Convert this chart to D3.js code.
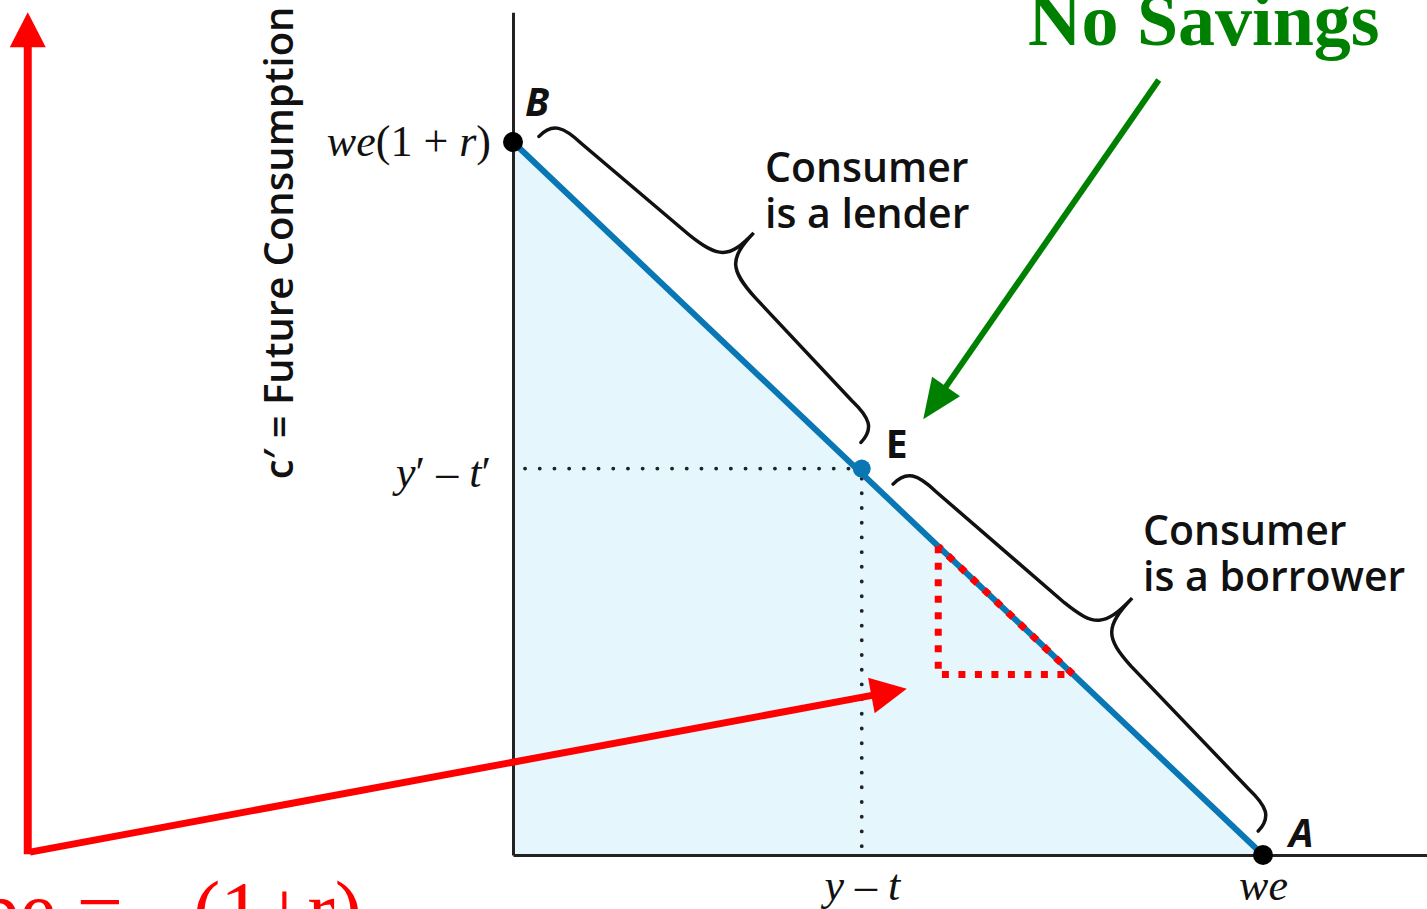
<!DOCTYPE html>
<html>
<head>
<meta charset="utf-8">
<script src="https://cdn.jsdelivr.net/npm/d3@7"></script>
<style>
  html, body { margin: 0; padding: 0; background: #fff; overflow: hidden; }
  svg { display: block; }
</style>
</head>
<body>
<svg id="chart" width="1427" height="909"></svg>
<script>
// Budget line data (normalised units: current consumption c, future consumption c')
const budgetLine = [
    { label: "B", c: 0, cf: 1 },
    { label: "A", c: 1, cf: 0 }
];
const endowment = { label: "E", c: 0.465, cf: 0.535 };
const axisMax = { c: 1.219, cf: 1.182 };

// Tick labels
const xTicks = [
    { value: 0.465, label: "y – t" },
    { value: 1, label: "we" }
];
const yTicks = [
    { value: 1, label: "we(1 + r)" },
    { value: 0.535, label: "y′ – t′" }
];

// Braces along the budget line (from, to)
const braces = [
    { from: 0, to: 0.465, lines: ["Consumer", "is a lender"] },
    { from: 0.465, to: 1, lines: ["Consumer", "is a borrower"] }
];

// Slope triangle on the budget line
const slopeTriangle = [0.567, 0.747];

// Annotation arrows (data units)
const redAxisArrow = { c: -0.647, from: 0.004, to: 1.182 };
const redPointer = [{ c: -0.644, cf: 0.004 }, { c: 0.525, cf: 0.233 }];
const greenPointer = [{ c: 0.861, cf: 1.087 }, { c: 0.547, cf: 0.611 }];

const svg = d3.select("#chart");

const x = d3.scaleLinear().domain([0, 1]).range([513, 1263]);
const y = d3.scaleLinear().domain([0, 1]).range([855, 142]);

const blue = "#0a77b5";
const serif = "'Liberation Serif', 'Times New Roman', serif";
const sans = "'Open Sans', 'Noto Sans', sans-serif";

// Shaded budget set
svg.append("path")
    .attr("d", d3.line()([[x(0), y(0)], [x(0), y(1)], [x(1), y(0)]]) + "Z")
    .attr("fill", "#e5f7fc");

// Dotted guides to E
const dotted = svg.append("g")
    .attr("stroke", "#222")
    .attr("stroke-width", 3.8)
    .attr("stroke-linecap", "round")
    .attr("stroke-dasharray", "0.1 14.6");
dotted.append("line")
    .attr("x1", x(0) + 12).attr("y1", y(endowment.cf) - 5)
    .attr("x2", x(endowment.c)).attr("y2", y(endowment.cf) - 5);
dotted.append("line")
    .attr("x1", x(endowment.c)).attr("y1", y(endowment.cf) + 5)
    .attr("x2", x(endowment.c)).attr("y2", y(0));

// Axes
const xAxis = d3.axisBottom(x.copy().domain([0, axisMax.c]).range([x(0), x(axisMax.c)]))
    .tickValues(xTicks.map(d => d.value))
    .tickSize(0)
    .tickPadding(14)
    .tickFormat(v => xTicks.find(d => d.value === v).label);
const yAxis = d3.axisLeft(y.copy().domain([0, axisMax.cf]).range([y(0), y(axisMax.cf)]))
    .tickValues(yTicks.map(d => d.value))
    .tickSize(0)
    .tickPadding(22)
    .tickFormat(v => yTicks.find(d => d.value === v).label);

const gx = svg.append("g").attr("transform", `translate(0,${y(0)})`).call(xAxis);
const gy = svg.append("g").attr("transform", `translate(${x(0)},0)`).call(yAxis);

// Letters in italic, digits and operators upright (math style)
function mathify(sel) {
    sel.each(function () {
        const t = d3.select(this);
        const s = t.text();
        t.text(null);
        (s.match(/[A-Za-z]+|[^A-Za-z]+/g) || []).forEach(run => {
            t.append("tspan")
                .style("font-style", /[A-Za-z]/.test(run) ? "italic" : "normal")
                .text(run);
        });
    });
}

[gx, gy].forEach(g => {
    g.select(".domain").attr("stroke", "#222").attr("stroke-width", 3);
    g.selectAll("text")
        .attr("fill", "#111")
        .style("font-family", serif)
        .style("font-size", "44px")
        .call(mathify);
});
gx.selectAll("text").attr("dy", "0.7em");
gy.selectAll("text").attr("dy", "0.3em");

// Y axis title
svg.append("text")
    .attr("transform", `translate(293,${(y(axisMax.cf) + y(endowment.cf)) / 2}) rotate(-90)`)
    .attr("text-anchor", "middle")
    .style("font-family", sans)
    .style("font-weight", 600)
    .style("font-size", "40px")
    .attr("fill", "#111")
    .text("c′ = Future Consumption");

// Budget line
svg.append("line")
    .attr("x1", x(budgetLine[0].c)).attr("y1", y(budgetLine[0].cf))
    .attr("x2", x(budgetLine[1].c)).attr("y2", y(budgetLine[1].cf))
    .attr("stroke", blue)
    .attr("stroke-width", 6);

// Curly braces
const bx = x(1) - x(0), by = y(0) - y(1);
const blen = Math.hypot(bx, by);
const dir = [bx / blen, by / blen];
const perp = [dir[1], -dir[0]];

function bracePath(p1, p2, b, w) {
    const L = Math.hypot(p2[0] - p1[0], p2[1] - p1[1]);
    const h = 36, d = 46;
    const pt = (u, v) => [p1[0] + u * dir[0] + v * perp[0], p1[1] + u * dir[1] + v * perp[1]];
    const f = p => p[0].toFixed(1) + "," + p[1].toFixed(1);
    const m = L / 2;
    return "M" + f(pt(0, 0)) +
        "C" + f(pt(0, b * 0.8)) + " " + f(pt(h * 0.3, b)) + " " + f(pt(h, b)) +
        "L" + f(pt(m - d, b + 8)) +
        "C" + f(pt(m - 8, b + 11)) + " " + f(pt(m, b + 18)) + " " + f(pt(m, w)) +
        "C" + f(pt(m, b + 18)) + " " + f(pt(m + 8, b + 11)) + " " + f(pt(m + d, b + 8)) +
        "L" + f(pt(L - h, b)) +
        "C" + f(pt(L - h * 0.3, b)) + " " + f(pt(L, b * 0.8)) + " " + f(pt(L, 0));
}

braces.forEach((br, i) => {
    const a = [x(br.from), y(1 - br.from)];
    const z = [x(br.to), y(1 - br.to)];
    const padA = i === 0 ? 15 : 30, padZ = i === 0 ? 22 : 20, off = i === 0 ? 22 : 14;
    const p1 = [a[0] + padA * dir[0] + off * perp[0], a[1] + padA * dir[1] + off * perp[1]];
    const p2 = [z[0] - padZ * dir[0] + off * perp[0], z[1] - padZ * dir[1] + off * perp[1]];
    svg.append("path")
        .attr("d", bracePath(p1, p2, 24, i === 0 ? 78 : 82))
        .attr("fill", "none")
        .attr("stroke", "#111")
        .attr("stroke-width", 3.5)
        .attr("stroke-linecap", "round");
});

// Brace captions
const captionPos = [[765, 182], [1143, 545]];
braces.forEach((br, i) => {
    br.lines.forEach((ln, j) => {
        svg.append("text")
            .attr("x", captionPos[i][0])
            .attr("y", captionPos[i][1] + j * 46)
            .style("font-family", sans)
            .style("font-weight", 600)
            .style("font-size", "41px")
            .attr("fill", "#111")
            .text(ln);
    });
});

// Slope triangle (red dotted)
const t0 = slopeTriangle[0], t1 = slopeTriangle[1];
svg.append("path")
    .attr("d", d3.line()([[x(t0), y(1 - t0)], [x(t0), y(1 - t1)], [x(t1), y(1 - t1)], [x(t0), y(1 - t0)]]))
    .attr("fill", "none")
    .attr("stroke", "#ff0000")
    .attr("stroke-width", 7)
    .attr("stroke-dasharray", "7 9.5");

// Points
svg.selectAll("circle.pt")
    .data(budgetLine)
    .join("circle")
    .attr("class", "pt")
    .attr("cx", d => x(d.c))
    .attr("cy", d => y(d.cf))
    .attr("r", 10)
    .attr("fill", "#000");
svg.append("circle")
    .attr("cx", x(endowment.c))
    .attr("cy", y(endowment.cf) - 5)
    .attr("r", 9)
    .attr("fill", blue);

// Point labels
const pointLabels = [
    { text: "B", px: x(0) + 12, py: 116, italic: true },
    { text: "E", px: x(endowment.c) + 24, py: 458, italic: false },
    { text: "A", px: x(1) + 26, py: 847, italic: true }
];
svg.selectAll("text.pl")
    .data(pointLabels)
    .join("text")
    .attr("class", "pl")
    .attr("x", d => d.px)
    .attr("y", d => d.py)
    .style("font-family", sans)
    .style("font-weight", 700)
    .style("font-style", d => d.italic ? "italic" : "normal")
    .style("font-size", "39px")
    .attr("fill", "#111")
    .text(d => d.text);

// Arrow helper
function arrow(p1, p2, color, width, headLen, headW) {
    const dx = p2[0] - p1[0], dy = p2[1] - p1[1];
    const len = Math.hypot(dx, dy);
    const ux = dx / len, uy = dy / len;
    const base = [p2[0] - ux * headLen, p2[1] - uy * headLen];
    svg.append("line")
        .attr("x1", p1[0]).attr("y1", p1[1])
        .attr("x2", base[0] + ux * 2).attr("y2", base[1] + uy * 2)
        .attr("stroke", color)
        .attr("stroke-width", width);
    svg.append("path")
        .attr("d", d3.line()([
            p2,
            [base[0] - uy * headW / 2, base[1] + ux * headW / 2],
            [base[0] + uy * headW / 2, base[1] - ux * headW / 2]
        ]) + "Z")
        .attr("fill", color);
}

// Red axis arrow and pointer
arrow([x(redAxisArrow.c), y(redAxisArrow.from) + 2], [x(redAxisArrow.c), y(redAxisArrow.to)], "#ff0000", 8, 35, 36);
arrow([x(redPointer[0].c), y(redPointer[0].cf)], [x(redPointer[1].c), y(redPointer[1].cf)], "#ff0000", 7, 36, 36);

// Green pointer to E
arrow([x(greenPointer[0].c), y(greenPointer[0].cf)], [x(greenPointer[1].c), y(greenPointer[1].cf)], "#008000", 6, 40, 34);

// No Savings title
svg.append("text")
    .attr("x", 1028).attr("y", 45)
    .style("font-family", serif)
    .style("font-weight", 700)
    .style("font-size", "74px")
    .attr("fill", "#008000")
    .text("No Savings");

// Slope caption (mostly off-canvas)
const slope = svg.append("text")
    .attr("y", 938)
    .style("font-family", serif)
    .style("font-size", "82px")
    .attr("fill", "#ff0000");
slope.append("tspan").attr("x", 123).attr("text-anchor", "end").text("Slope =");
slope.append("tspan").attr("x", 193).attr("text-anchor", "start").text("(1+r)");
</script>
</body>
</html>
